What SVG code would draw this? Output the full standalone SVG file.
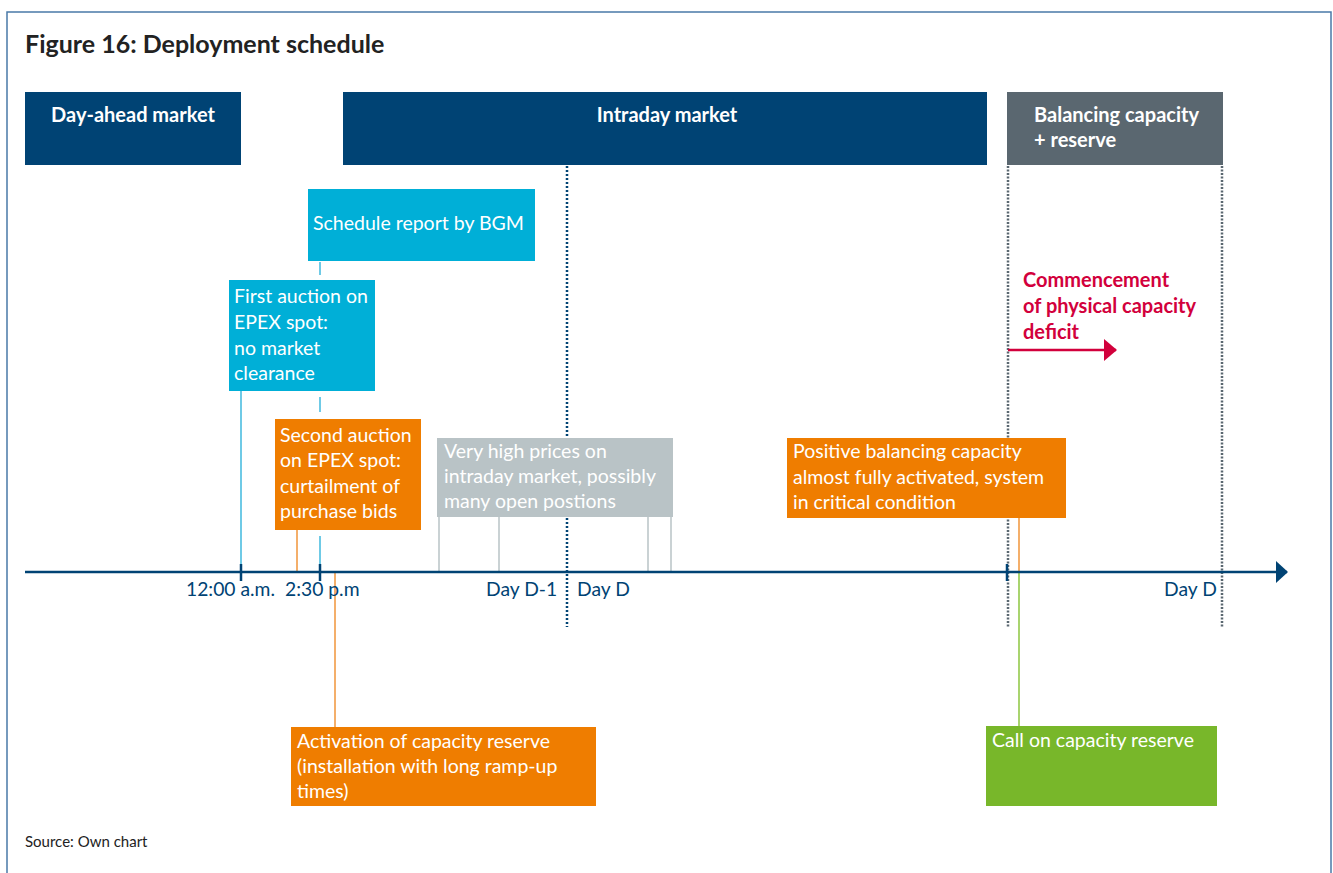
<svg xmlns="http://www.w3.org/2000/svg" width="1333" height="873" viewBox="0 0 1333 873">
  <defs>
    <style>
      text { font-family: "Lato", "Noto Sans", "Liberation Sans", sans-serif; }
      .title { font-size: 25px; font-weight: bold; fill: #222; }
      .hdr { font-size: 20px; font-weight: bold; fill: #fff; }
      .box { font-size: 19.5px; fill: #fff; }
      .axl { font-size: 19.3px; fill: #004374; }
      .red { font-size: 20px; font-weight: bold; fill: #d2003c; }
      .src { font-size: 15px; fill: #222; }
      .navy { fill: #004374; }
      .slate { fill: #5a6770; }
      .cyan { fill: #00afd7; }
      .orange { fill: #ef7d00; }
      .grey { fill: #b9c3c6; }
      .green { fill: #78b72a; }
      .l-cyan { stroke: #3fb8de; stroke-width: 1.5; fill: none; }
      .l-orange { stroke: #f0943a; stroke-width: 1.5; fill: none; }
      .l-grey { stroke: #b9c3c6; stroke-width: 1.5; fill: none; }
      .l-green { stroke: #8cc63f; stroke-width: 1.5; fill: none; }
      .tick { stroke: #004374; stroke-width: 2.5; }
      .dot-navy { stroke: #004374; stroke-width: 2.5; stroke-dasharray: 2 2; fill: none; }
      .dot-slate { stroke: #5a6770; stroke-width: 2.5; stroke-dasharray: 2 1.5; fill: none; }
    </style>
    <marker id="ah-navy" markerWidth="12" markerHeight="22" refX="11" refY="11" orient="auto" markerUnits="userSpaceOnUse">
      <polygon points="0,0 12,11 0,22" fill="#004374"/>
    </marker>
    <marker id="ah-red" markerWidth="13" markerHeight="22" refX="12" refY="11" orient="auto" markerUnits="userSpaceOnUse">
      <polygon points="0,0 13,11 0,22" fill="#d2003c"/>
    </marker>
  </defs>

  <rect x="0" y="0" width="1333" height="873" fill="#fff"/>
  <path d="M7,880 L7,12 L1331,12 L1331,880" fill="none" stroke="#4a7aa8" stroke-width="1.5"/>

  <text class="title" x="25" y="53">Figure 16: Deployment schedule</text>

  <g id="connectors">
    <!-- market dividers -->
    <line class="dot-navy" x1="567" y1="166" x2="567" y2="627"/>
    <line class="dot-slate" x1="1008" y1="166" x2="1008" y2="627"/>
    <line class="dot-slate" x1="1222" y1="166" x2="1222" y2="627"/>
    <!-- cyan connectors -->
    <line class="l-cyan" x1="320" y1="262" x2="320" y2="275"/>
    <line class="l-cyan" x1="320" y1="397" x2="320" y2="412"/>
    <line class="l-cyan" x1="320" y1="536" x2="320" y2="572"/>
    <line class="l-cyan" x1="241" y1="391" x2="241" y2="572"/>
    <!-- orange connectors -->
    <line class="l-orange" x1="297" y1="530" x2="297" y2="572"/>
    <line class="l-orange" x1="335" y1="572" x2="335" y2="727"/>
    <line class="l-orange" x1="1019" y1="518" x2="1019" y2="572"/>
    <!-- green connector -->
    <line class="l-green" x1="1019" y1="572" x2="1019" y2="726"/>
    <!-- grey connectors -->
    <line class="l-grey" x1="439" y1="517" x2="439" y2="572"/>
    <line class="l-grey" x1="499" y1="517" x2="499" y2="572"/>
    <line class="l-grey" x1="648" y1="517" x2="648" y2="572"/>
    <line class="l-grey" x1="671" y1="517" x2="671" y2="572"/>
    <!-- time axis -->
    <line x1="25" y1="572" x2="1287" y2="572" stroke="#004374" stroke-width="2.5" marker-end="url(#ah-navy)"/>
    <line class="tick" x1="241" y1="564" x2="241" y2="581"/>
    <line class="tick" x1="320" y1="564" x2="320" y2="581"/>
    <line class="tick" x1="1007" y1="564" x2="1007" y2="581"/>
    <!-- deficit arrow -->
    <line x1="1008" y1="350" x2="1116" y2="350" stroke="#d2003c" stroke-width="2.5" marker-end="url(#ah-red)"/>
  </g>

  <g id="axis-labels">
    <text class="axl" x="186" y="596">12:00 a.m.</text>
    <text class="axl" x="285" y="596">2:30 p.m</text>
    <text class="axl" x="486" y="596">Day D-1</text>
    <text class="axl" x="577" y="596">Day D</text>
    <text class="axl" x="1164" y="596">Day D</text>
  </g>

  <g id="day-ahead">
    <rect class="navy" x="25" y="92" width="216" height="73"/>
    <text class="hdr" x="133" y="122" text-anchor="middle">Day-ahead market</text>
  </g>

  <g id="intraday">
    <rect class="navy" x="343" y="92" width="644" height="73"/>
    <text class="hdr" x="667" y="122" text-anchor="middle">Intraday market</text>
  </g>

  <g id="balancing">
    <rect class="slate" x="1007" y="92" width="216" height="73"/>
    <text class="hdr" x="1034" y="122">Balancing capacity</text>
    <text class="hdr" x="1034" y="147">+ reserve</text>
  </g>

  <g id="schedule-report">
    <rect class="cyan" x="308" y="189" width="227" height="72"/>
    <text class="box" x="313" y="230">Schedule report by BGM</text>
  </g>

  <g id="first-auction">
    <rect class="cyan" x="229" y="280" width="146" height="111"/>
    <text class="box" x="234" y="303">First auction on</text>
    <text class="box" x="234" y="329">EPEX spot:</text>
    <text class="box" x="234" y="355">no market</text>
    <text class="box" x="234" y="380">clearance</text>
  </g>

  <g id="second-auction">
    <rect class="orange" x="275" y="419" width="146" height="111"/>
    <text class="box" x="280" y="442">Second auction</text>
    <text class="box" x="280" y="467">on EPEX spot:</text>
    <text class="box" x="280" y="493">curtailment of</text>
    <text class="box" x="280" y="518">purchase bids</text>
  </g>

  <g id="high-prices">
    <rect class="grey" x="437" y="438" width="236" height="79"/>
    <text class="box" x="444" y="458">Very high prices on</text>
    <text class="box" x="444" y="483">intraday market, possibly</text>
    <text class="box" x="444" y="508">many open postions</text>
  </g>

  <g id="positive-balancing">
    <rect class="orange" x="787" y="438" width="279" height="80"/>
    <text class="box" x="793" y="458">Positive balancing capacity</text>
    <text class="box" x="793" y="484">almost fully activated, system</text>
    <text class="box" x="793" y="509">in critical condition</text>
  </g>

  <g id="deficit">
    <text class="red" x="1023" y="287">Commencement</text>
    <text class="red" x="1023" y="313">of physical capacity</text>
    <text class="red" x="1023" y="339">deficit</text>
  </g>

  <g id="activation">
    <rect class="orange" x="291" y="727" width="305" height="79"/>
    <text class="box" x="297" y="748">Activation of capacity reserve</text>
    <text class="box" x="297" y="773">(installation with long ramp-up</text>
    <text class="box" x="297" y="798">times)</text>
  </g>

  <g id="call-reserve">
    <rect class="green" x="986" y="726" width="231" height="80"/>
    <text class="box" x="992" y="747">Call on capacity reserve</text>
  </g>

  <text class="src" x="25" y="847">Source: Own chart</text>
</svg>
